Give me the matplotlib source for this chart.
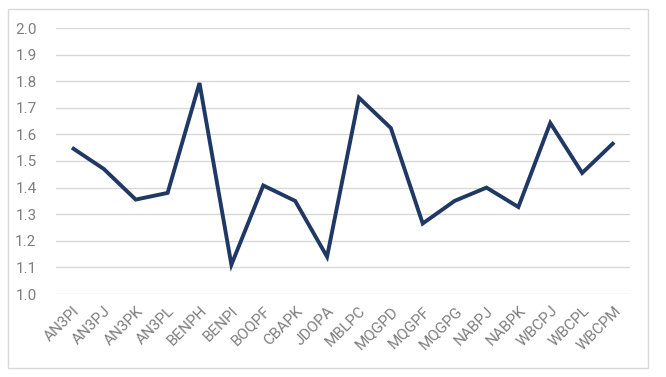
import matplotlib
matplotlib.use("Agg")
import matplotlib.pyplot as plt
from matplotlib.patches import Rectangle

categories = ["AN3PI", "AN3PJ", "AN3PK", "AN3PL", "BENPH", "BENPI", "BOQPF", "CBAPK", "JDOPA",
              "MBLPC", "MQGPD", "MQGPF", "MQGPG", "NABPJ", "NABPK", "WBCPJ", "WBCPL", "WBCPM"]
values = [1.55, 1.47, 1.355, 1.38, 1.793, 1.11, 1.408, 1.35, 1.14,
          1.738, 1.624, 1.265, 1.35, 1.40, 1.327, 1.643, 1.455, 1.570]
yticks = [1.0, 1.1, 1.2, 1.3, 1.4, 1.5, 1.6, 1.7, 1.8, 1.9, 2.0]

plt.rcParams['font.family'] = ['Roboto', 'DejaVu Sans']
W, H = 666, 377
fig = plt.figure(figsize=(W/100, H/100), dpi=100)
fig.patches.append(Rectangle((8/W, 1-368/H), 640/W, 359/H, transform=fig.transFigure,
                             fill=False, edgecolor='#d9d9d9', linewidth=1))
left, right, top, bottom = 56, 630, 28, 294
ax = fig.add_axes([left/W, 1-bottom/H, (right-left)/W, (bottom-top)/H])
x = range(len(categories))
ax.plot(x, values, color='#1f3864', linewidth=2.8, solid_joinstyle='miter', solid_capstyle='butt')
ax.set_xlim(-0.5, len(categories)-0.5)
ax.set_ylim(1.0, 2.0)
ax.set_yticks(yticks)
ax.set_yticklabels([f"{v:.1f}" for v in yticks])
ax.set_xticks(list(x))
ax.set_xticklabels(categories, rotation=45, ha='right', rotation_mode='anchor')
ax.grid(axis='y', color='#d9d9d9', linewidth=1)
ax.set_axisbelow(True)
for s in ax.spines.values():
    s.set_visible(False)
ax.tick_params(axis='both', length=0, labelsize=11, colors='#7f7f7f', pad=7)
ax.tick_params(axis='y', pad=14)
fig.savefig("out.png", dpi=100)
